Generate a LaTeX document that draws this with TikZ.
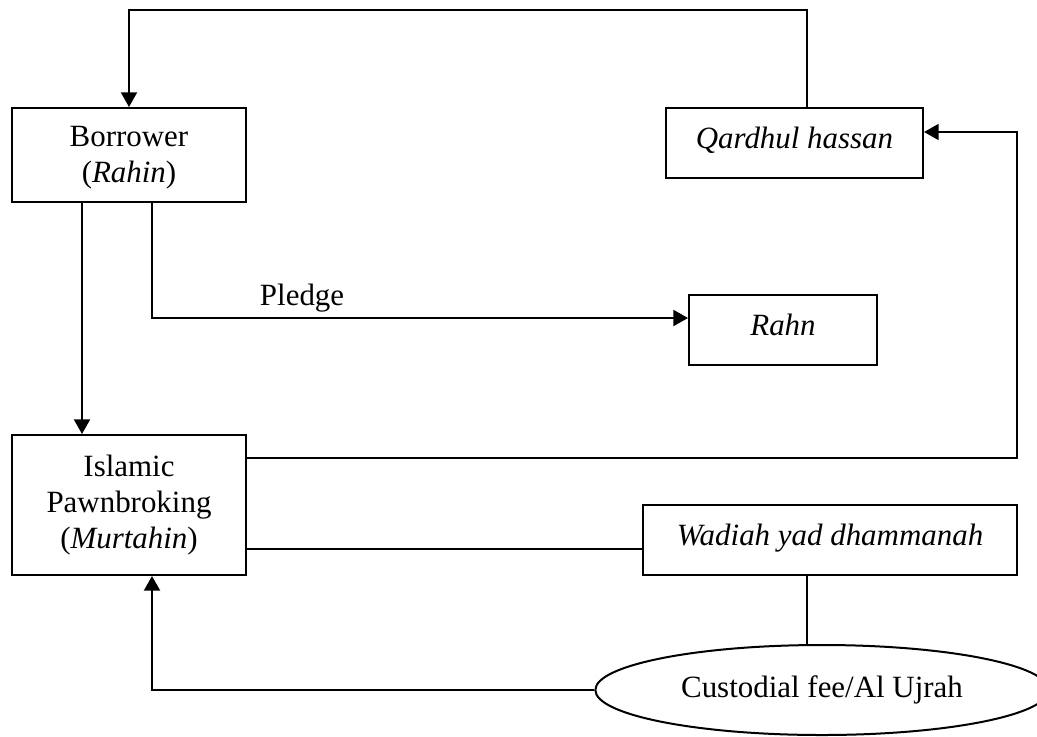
\documentclass[tikz,border=0pt]{standalone}
\usepackage{fontspec}
\setmainfont{Liberation Serif}
\usepackage{tikz}
\usetikzlibrary{shapes.geometric,arrows.meta}
\tikzstyle{flowbox} = [draw=black, line width=1.5pt, rectangle, align=center, inner sep=0pt, font=\fontsize{23.2}{27}\selectfont]
\tikzstyle{onerow} = [flowbox, text height=30pt, text depth=22.5pt]
\tikzstyle{feeoval} = [draw=black, line width=1.5pt, ellipse, inner sep=0pt, font=\fontsize{23.2}{27}\selectfont]
\tikzstyle{link} = [line width=1.5pt]
\tikzstyle{arr} = [link, -{Triangle[length=11pt,width=12pt]}]

\begin{document}
\begin{tikzpicture}[x=0.75pt, y=-0.75pt]
\useasboundingbox (0,0) rectangle (1037,736);
\node [flowbox, minimum width=175.5pt, text height=55.5pt, text depth=15pt] (borrower) at (129,155) {Borrower\\(\textit{Rahin})};
\node [onerow, minimum width=192.75pt] (qardhul) at (794.5,143) {\textit{Qardhul hassan}};
\node [onerow, minimum width=141pt] (rahn) at (783,330) {\textit{Rahn}};
\node [flowbox, minimum width=175.5pt, minimum height=105pt] (islamic) at (129,505) {Islamic\\Pawnbroking\\(\textit{Murtahin})};
\node [onerow, minimum width=280.5pt] (wadiah) at (830,540) {\textit{Wadiah yad dhammanah}};
\node [feeoval, minimum width=340pt, minimum height=67.5pt] (fee) at (822,690) {Custodial fee/Al Ujrah};
\coordinate (top) at (129,10);
\coordinate (loop) at (1017,132);
% connectors
\draw [arr] ([shift={(12.5,0)}]qardhul.north) |- (top) -- (borrower.north);
\draw [arr] ([shift={(-47,0)}]borrower.south) -- ([shift={(-47,0)}]islamic.north);
\draw [arr] ([shift={(23,0)}]borrower.south) |- node[pos=0.64, above, font=\fontsize{23.2}{27}\selectfont] {Pledge} ([shift={(0,-12)}]rahn.west);
\draw [arr] ([shift={(0,-47)}]islamic.east) -| (loop) -- (qardhul.east |- loop);
\draw [link] ([shift={(0,9)}]wadiah.west -| islamic.east) -- ([shift={(0,9)}]wadiah.west);
\draw [link] ([shift={(-23,0)}]wadiah.south) -- ([shift={(-15,0)}]fee.north);
\draw [arr] (fee.west) -| ([shift={(23,0)}]islamic.south);
\end{tikzpicture}
\end{document}
